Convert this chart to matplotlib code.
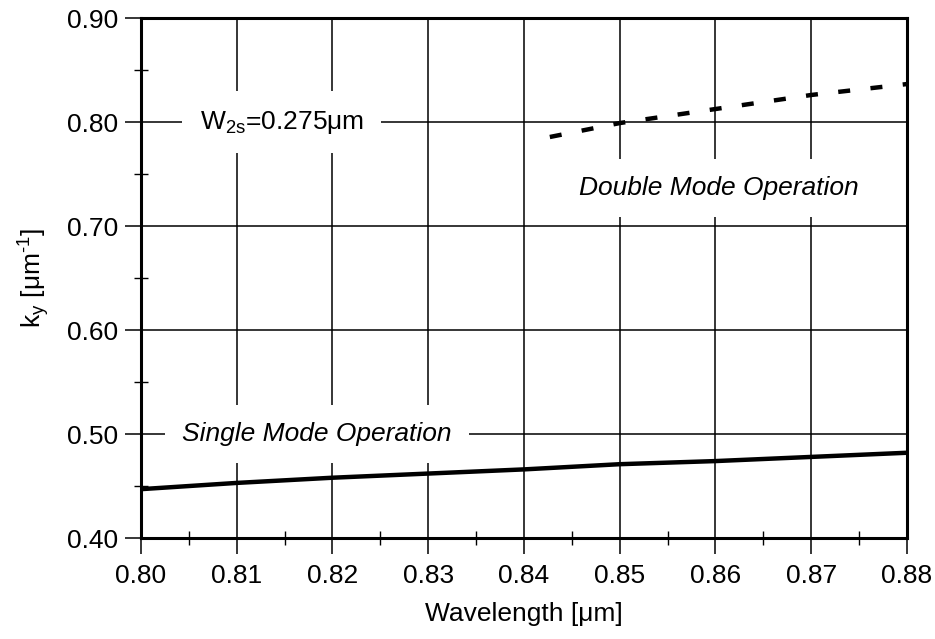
# Recreate the k_y vs wavelength chart (single / double mode operation).
import matplotlib
matplotlib.use("Agg")
import matplotlib.pyplot as plt
from matplotlib.ticker import MultipleLocator

plt.rcParams['font.family'] = ['Liberation Sans', 'DejaVu Sans']
plt.rcParams['mathtext.fontset'] = 'custom'
plt.rcParams['mathtext.rm'] = 'Liberation Sans'
plt.rcParams['mathtext.it'] = 'Liberation Sans:italic'

# Single mode curve (solid)
wl_single = [0.80, 0.81, 0.82, 0.83, 0.84, 0.85, 0.86, 0.87, 0.88]
ky_single = [0.447, 0.453, 0.458, 0.462, 0.466, 0.471, 0.474, 0.478, 0.482]

# Double mode curve (dashed)
wl_double = [0.8427, 0.85, 0.86, 0.87, 0.88]
ky_double = [0.7856, 0.799, 0.8125, 0.826, 0.8365]

x_ticks = [0.80, 0.81, 0.82, 0.83, 0.84, 0.85, 0.86, 0.87, 0.88]
y_ticks = [0.40, 0.50, 0.60, 0.70, 0.80, 0.90]

FS = 19

fig = plt.figure(figsize=(9.35, 6.39), dpi=100)
ax = fig.add_axes([0.1508, 0.158, 0.8192, 0.8138])

ax.plot(wl_single, ky_single, color='black', lw=3.2, zorder=4)
ax.plot(wl_double, ky_double, color='black', lw=3.2,
        linestyle=(0, (2.7, 4.6)), zorder=4)

ax.set_xlim(0.80, 0.88)
ax.set_ylim(0.40, 0.90)
ax.set_xticks(x_ticks)
ax.set_yticks(y_ticks)
ax.set_xticklabels([f"{v:.2f}" for v in x_ticks])
ax.set_yticklabels([f"{v:.2f}" for v in y_ticks])
ax.xaxis.set_minor_locator(MultipleLocator(0.005))
ax.yaxis.set_minor_locator(MultipleLocator(0.05))

ax.tick_params(which='major', direction='out', length=11.5, width=1.1,
               labelsize=FS, color='black')
ax.tick_params(axis='x', which='major', pad=7)
ax.tick_params(axis='y', which='major', pad=5)
ax.tick_params(which='minor', direction='inout', length=10.5, width=1.0)

ax.grid(True, which='major', color='black', lw=1.1, zorder=1)
ax.set_axisbelow(True)
for s in ax.spines.values():
    s.set_linewidth(2.2)
    s.set_zorder(5)

ax.set_xlabel("Wavelength [μm]", fontsize=FS, labelpad=10)
ax.set_ylabel("k$_\\mathregular{y}$ [μm$^\\mathregular{\\text{-}1}$]",
              fontsize=FS, labelpad=11)

box = dict(boxstyle='square,pad=0.65', facecolor='white', edgecolor='none')
ax.text(0.8147, 0.80, "W$_\\mathregular{2s}$=0.275μm", fontsize=FS,
        ha='center', va='center', bbox=box, zorder=3)
ax.text(0.8184, 0.50, "Single Mode Operation", fontsize=FS, style='italic',
        ha='center', va='center', bbox=box, zorder=3)
ax.text(0.8604, 0.7365, "Double Mode Operation", fontsize=FS, style='italic',
        ha='center', va='center', bbox=box, zorder=3)

fig.savefig("out.png", dpi=100)
